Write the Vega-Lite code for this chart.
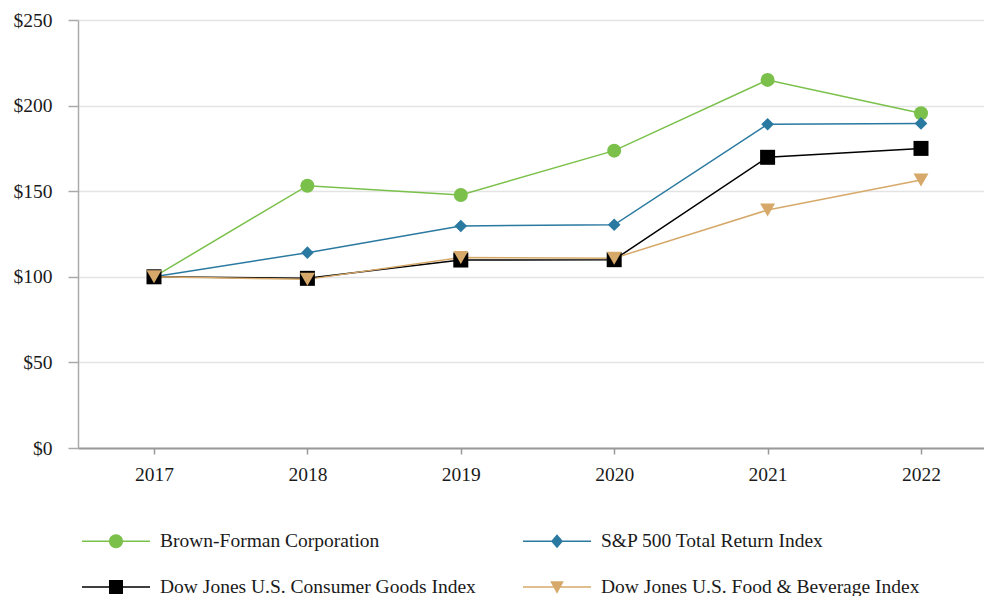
{
  "$schema": "https://vega.github.io/schema/vega-lite/v6.json",
  "width": 906,
  "height": 428,
  "autosize": {"type": "none"},
  "padding": {"left": 78, "top": 20, "right": 0, "bottom": 148},
  "config": {"font": "Liberation Serif", "view": {"stroke": null}},
  "data": {
    "values": [
      {"series": "Brown-Forman Corporation", "year": 2017, "value": 100},
      {"series": "Brown-Forman Corporation", "year": 2018, "value": 153.2},
      {"series": "Brown-Forman Corporation", "year": 2019, "value": 147.8},
      {"series": "Brown-Forman Corporation", "year": 2020, "value": 173.7},
      {"series": "Brown-Forman Corporation", "year": 2021, "value": 215},
      {"series": "Brown-Forman Corporation", "year": 2022, "value": 195.5},
      {"series": "S&P 500 Total Return Index", "year": 2017, "value": 100},
      {"series": "S&P 500 Total Return Index", "year": 2018, "value": 114.1},
      {"series": "S&P 500 Total Return Index", "year": 2019, "value": 129.7},
      {"series": "S&P 500 Total Return Index", "year": 2020, "value": 130.4},
      {"series": "S&P 500 Total Return Index", "year": 2021, "value": 189.1},
      {"series": "S&P 500 Total Return Index", "year": 2022, "value": 189.6},
      {"series": "Dow Jones U.S. Consumer Goods Index", "year": 2017, "value": 100},
      {"series": "Dow Jones U.S. Consumer Goods Index", "year": 2018, "value": 99.1},
      {"series": "Dow Jones U.S. Consumer Goods Index", "year": 2019, "value": 109.8},
      {"series": "Dow Jones U.S. Consumer Goods Index", "year": 2020, "value": 110},
      {"series": "Dow Jones U.S. Consumer Goods Index", "year": 2021, "value": 169.8},
      {"series": "Dow Jones U.S. Consumer Goods Index", "year": 2022, "value": 175},
      {"series": "Dow Jones U.S. Food & Beverage Index", "year": 2017, "value": 100},
      {"series": "Dow Jones U.S. Food & Beverage Index", "year": 2018, "value": 98.5},
      {"series": "Dow Jones U.S. Food & Beverage Index", "year": 2019, "value": 111.3},
      {"series": "Dow Jones U.S. Food & Beverage Index", "year": 2020, "value": 110.9},
      {"series": "Dow Jones U.S. Food & Beverage Index", "year": 2021, "value": 139},
      {"series": "Dow Jones U.S. Food & Beverage Index", "year": 2022, "value": 156.5}
    ]
  },
  "encoding": {
    "x": {
      "field": "year",
      "type": "quantitative",
      "scale": {"domain": [2016.5046, 2022.4107], "nice": false, "zero": false},
      "axis": {
        "values": [2017, 2018, 2019, 2020, 2021, 2022],
        "format": "d",
        "title": null,
        "grid": false,
        "domainColor": "#999999",
        "domainWidth": 2,
        "tickColor": "#999999",
        "tickWidth": 1.5,
        "tickSize": 6,
        "labelFontSize": 19.5,
        "labelColor": "#1a1a1a",
        "labelPadding": 11
      }
    },
    "y": {
      "field": "value",
      "type": "quantitative",
      "scale": {"domain": [0, 250], "nice": false},
      "axis": {
        "values": [0, 50, 100, 150, 200, 250],
        "format": "$,.0f",
        "title": null,
        "gridColor": "#e4e4e4",
        "gridWidth": 1.5,
        "domainColor": "#aaaaaa",
        "domainWidth": 1.5,
        "tickColor": "#aaaaaa",
        "tickWidth": 1.5,
        "tickSize": 10,
        "labelFontSize": 19.5,
        "labelColor": "#1a1a1a",
        "labelPadding": 16
      }
    },
    "color": {
      "field": "series",
      "type": "nominal",
      "sort": null,
      "scale": {
        "domain": ["Brown-Forman Corporation", "S&P 500 Total Return Index", "Dow Jones U.S. Consumer Goods Index", "Dow Jones U.S. Food & Beverage Index"],
        "range": ["#7AC04A", "#2A79A0", "#000000", "#D6A96A"]
      },
      "legend": {
        "orient": "none",
        "legendX": 4,
        "legendY": 487,
        "columns": 2,
        "direction": "horizontal",
        "title": null,
        "padding": 0,
        "labelFontSize": 19.5,
        "labelColor": "#1a1a1a",
        "labelFont": "Liberation Serif",
        "labelLimit": 0,
        "symbolSize": 4624,
        "symbolStrokeWidth": 0,
        "labelOffset": 10,
        "columnPadding": 47,
        "rowPadding": 2
      }
    }
  },
  "layer": [
    {"mark": {"type": "line", "strokeWidth": 1.5}},
    {
      "transform": [{"filter": "datum.year > 3000"}],
      "mark": {"type": "point", "filled": true, "opacity": 1, "size": 4624, "strokeWidth": 0},
      "encoding": {
        "shape": {
          "field": "series",
          "type": "nominal",
          "sort": null,
          "scale": {
            "domain": ["Brown-Forman Corporation", "S&P 500 Total Return Index", "Dow Jones U.S. Consumer Goods Index", "Dow Jones U.S. Food & Beverage Index"],
            "range": [
              "M-1,-0.022H1V0.022H-1ZM0.206,0C0.206,0.114,0.114,0.206,0,0.206C-0.114,0.206,-0.206,0.114,-0.206,0C-0.206,-0.114,-0.114,-0.206,0,-0.206C0.114,-0.206,0.206,-0.114,0.206,0Z",
              "M-1,-0.022H1V0.022H-1ZM0,-0.206L0.176,0L0,0.206L-0.176,0Z",
              "M-1,-0.022H1V0.022H-1ZM-0.206,-0.206H0.206V0.206H-0.206Z",
              "M-1,-0.022H1V0.022H-1ZM-0.2,-0.17H0.2L0,0.2Z"
            ]
          },
          "legend": {
            "orient": "none",
            "legendX": 4,
            "legendY": 487,
            "columns": 2,
            "direction": "horizontal",
            "title": null,
            "padding": 0,
            "labelFontSize": 19.5,
            "labelColor": "#1a1a1a",
            "labelFont": "Liberation Serif",
            "labelLimit": 0,
            "symbolSize": 4624,
            "symbolStrokeWidth": 0,
            "labelOffset": 10,
            "columnPadding": 47,
            "rowPadding": 2
          }
        }
      }
    },
    {
      "transform": [{"filter": "datum.series === 'Brown-Forman Corporation'"}],
      "mark": {"type": "point", "filled": true, "opacity": 1, "shape": "circle", "size": 196}
    },
    {
      "transform": [{"filter": "datum.series === 'S&P 500 Total Return Index'"}],
      "mark": {"type": "point", "filled": true, "opacity": 1, "shape": "diamond", "size": 160}
    },
    {
      "transform": [{"filter": "datum.series === 'Dow Jones U.S. Consumer Goods Index'"}],
      "mark": {"type": "point", "filled": true, "opacity": 1, "shape": "square", "size": 225}
    },
    {
      "transform": [{"filter": "datum.series === 'Dow Jones U.S. Food & Beverage Index'"}],
      "mark": {"type": "point", "filled": true, "opacity": 1, "shape": "triangle-down", "size": 225}
    }
  ]
}
